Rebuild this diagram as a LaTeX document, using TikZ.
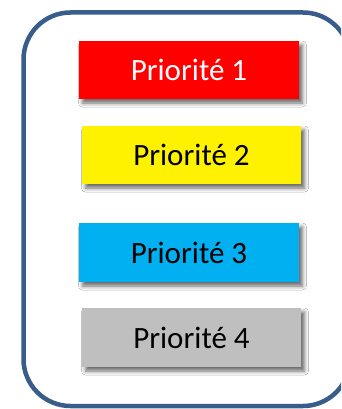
\documentclass[tikz,border=0pt]{standalone}
\usepackage{fontspec}
\setmainfont{Carlito}
\usetikzlibrary{shadows.blur}
\definecolor{frameblue}{HTML}{385D8A}
\definecolor{pcyan}{HTML}{00B0F0}
\definecolor{pgrey}{HTML}{BFBFBF}
\begin{document}
\begin{tikzpicture}[x=1pt,y=-1pt,
  prio/.style={minimum width=220pt, minimum height=58pt, inner sep=0pt,
    font=\fontsize{31}{36}\selectfont,
    blur shadow={shadow xshift=3.5pt, shadow yshift=-4pt, shadow blur radius=4pt, shadow opacity=60}},
  frame/.style={draw=frameblue, line width=4.5pt}]
\fill[white] (0,0) rectangle (341,409);
\begin{scope}
\clip (0,0) rectangle (341,409);
\draw[frame] (303,12.5) -- (70.5,12.5) arc[start angle=270, end angle=180, radius=47] -- (23.5,359) arc[start angle=180, end angle=90, radius=47] -- (303,406) arc[start angle=90, end angle=15, radius=47];
\draw[frame] (303,12.5) arc[start angle=270, end angle=345, radius=47];
\end{scope}
\node[prio, fill=red, text=white] (p1) at (189,70) {Priorité 1};
\node[prio, fill=yellow, text=black, minimum width=219pt] (p2) at (191.5,155) {Priorité 2};
\node[prio, fill=pcyan, text=black, minimum height=59pt] (p3) at (189,252.5) {Priorité 3};
\node[prio, fill=pgrey, text=black, minimum width=219pt, minimum height=59pt] (p4) at (191.5,337.5) {Priorité 4};
\pgfresetboundingbox
\useasboundingbox (0,0) rectangle (341,409);
\end{tikzpicture}
\end{document}
